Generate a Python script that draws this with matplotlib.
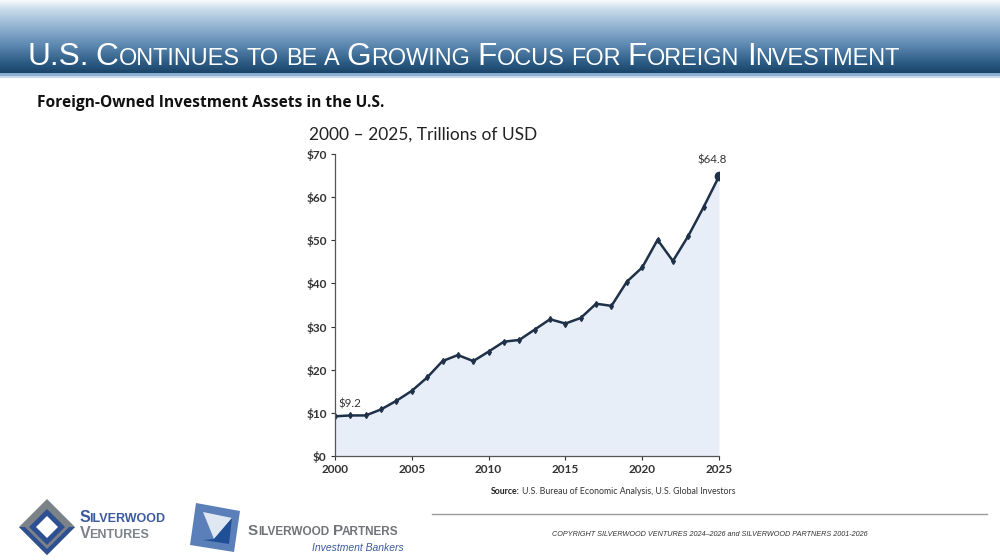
import numpy as np
import matplotlib
matplotlib.use("Agg")
import matplotlib.pyplot as plt
from matplotlib.patches import Polygon, Rectangle
from matplotlib.ticker import FuncFormatter

# data (trillions of USD)
years = list(range(2000, 2026))
assets = [9.2, 9.4, 9.4, 10.8, 12.8, 15.1, 18.2, 22.0, 23.4, 22.0,
          24.2, 26.5, 26.9, 29.3, 31.7, 30.7, 32.0, 35.3, 34.8, 40.4,
          43.7, 50.1, 45.2, 51.0, 57.7, 64.8]
y_ticks = [0, 10, 20, 30, 40, 50, 60, 70]
x_ticks = [2000, 2005, 2010, 2015, 2020, 2025]

# title in small caps: (text, capital?)
title_words = [[("U.S.", 1)], [("C", 1), ("ONTINUES", 0)], [("TO", 0)], [("BE", 0)], [("A", 0)],
               [("G", 1), ("ROWING", 0)], [("F", 1), ("OCUS", 0)], [("FOR", 0)],
               [("F", 1), ("OREIGN", 0)], [("I", 1), ("NVESTMENT", 0)]]

W, H = 1000, 560
fig = plt.figure(figsize=(10, 5.6), dpi=100)
fig.patch.set_facecolor("white")

# background layer in pixel coordinates
bg = fig.add_axes([0, 0, 1, 1])
bg.set_xlim(0, W)
bg.set_ylim(H, 0)
bg.axis("off")

# header gradient
stops_y = [0, 8, 22, 45, 62, 73]
stops_c = [(0.97, 0.98, 0.99), (0.80, 0.87, 0.93), (0.62, 0.74, 0.85),
           (0.36, 0.53, 0.69), (0.17, 0.36, 0.52), (0.10, 0.26, 0.40)]
rows = np.arange(0, 73)
grad = np.zeros((len(rows), 1, 3))
for k in range(3):
    grad[:, 0, k] = np.interp(rows, stops_y, [c[k] for c in stops_c])
bg.imshow(grad, extent=(0, W, 73, 0), aspect="auto", interpolation="bilinear")
bg.add_patch(Rectangle((0, 73), W, 3, color="#8aaed0", lw=0))
bg.add_patch(Rectangle((0, 76), W, 1.5, color="#c9d9e9", lw=0))
bg.set_xlim(0, W)
bg.set_ylim(H, 0)

# small caps title, placed piece by piece
fam = ["Liberation Sans Narrow", "Liberation Sans", "DejaVu Sans"]
fig.canvas.draw()
r = fig.canvas.get_renderer()
big_fs, small_fs = 22.8, 16.9
space_w = 7
x = 27
for word in title_words:
    for txt, big in word:
        t = bg.text(x, 65, txt, fontsize=big_fs if big else small_fs, color="white",
                    family=fam, va="baseline", ha="left")
        x += t.get_window_extent(renderer=r).width
    x += space_w

bg.text(37, 103, "Foreign-Owned Investment Assets in the U.S.", fontsize=11.2,
        fontweight="bold", family=["Open Sans", "DejaVu Sans"], va="center", color="#111111")

# footer
bg.plot([432, 987], [514, 514], color="#9a9a9a", lw=1)
bg.text(710, 535, "COPYRIGHT SILVERWOOD VENTURES 2024\u20132026 and SILVERWOOD PARTNERS 2001-2026",
        fontsize=5.2, style="italic", color="#333333", ha="center", va="center",
        family=["Liberation Sans Narrow", "Liberation Sans"])

# Silverwood Ventures logo
cx, cy = 47, 527
def diamond(cx, cy, s):
    return [(cx, cy - s), (cx + s, cy), (cx, cy + s), (cx - s, cy)]
bg.add_patch(Polygon(diamond(cx, cy, 28), closed=True, color="#7b8288", lw=0))
bg.add_patch(Polygon([(cx, cy + 28), (cx + 28, cy), (cx + 22, cy), (cx, cy + 22), (cx - 22, cy), (cx - 28, cy)],
                     closed=True, color="#2f4f93", lw=0))
bg.add_patch(Polygon(diamond(cx, cy, 18), closed=True, color="#2f4f93", lw=0))
bg.add_patch(Polygon(diamond(cx, cy, 11), closed=True, color="white", lw=0))
bg.text(80, 522, "S", fontsize=11.5, fontweight="bold", color="#3b5aa0", family="Liberation Sans", va="baseline")
bg.text(89, 522, "ILVERWOOD", fontsize=9, fontweight="bold", color="#3b5aa0", family="Liberation Sans", va="baseline")
bg.text(80, 538, "V", fontsize=11.5, fontweight="bold", color="#7b8288", family="Liberation Sans", va="baseline")
bg.text(89, 538, "ENTURES", fontsize=9, fontweight="bold", color="#7b8288", family="Liberation Sans", va="baseline")

# Silverwood Partners logo
bg.add_patch(Polygon([(196, 503), (240, 511), (234, 552), (190, 545)], closed=True, color="#5b7fb8", lw=0))
bg.add_patch(Polygon([(203, 512), (232, 518), (214, 539)], closed=True, color="#dfe7f2", lw=0))
bg.add_patch(Polygon([(214, 539), (232, 518), (229, 544), (203, 540)], closed=True, color="#1f4f96", lw=0))
bg.text(248, 535, "S", fontsize=11, fontweight="bold", color="#707377", family="Liberation Sans", va="baseline")
bg.text(258, 535, "ILVERWOOD", fontsize=8.5, fontweight="bold", color="#707377", family="Liberation Sans", va="baseline")
bg.text(333, 535, "P", fontsize=11, fontweight="bold", color="#707377", family="Liberation Sans", va="baseline")
bg.text(342, 535, "ARTNERS", fontsize=8.5, fontweight="bold", color="#707377", family="Liberation Sans", va="baseline")
bg.text(404, 551, "Investment Bankers", fontsize=7.5, style="italic", color="#3b5aa0",
        family="Liberation Sans", va="baseline", ha="right")

# chart
ax = fig.add_axes([335 / W, 1 - 456 / H, 384 / W, 302 / H])
line_c = "#1e3148"
ax.fill_between(years, assets, 0, color="#e8eef8", lw=0)
ax.plot(years, assets, color=line_c, lw=1.8, marker="d", ms=3)
ax.plot(years[-1], assets[-1], marker="o", ms=6, color=line_c)
ax.set_xlim(2000, 2025)
ax.set_ylim(0, 70)
ax.set_xticks(x_ticks)
ax.set_yticks(y_ticks)
ax.yaxis.set_major_formatter(FuncFormatter(lambda v, p: f"${v:.0f}"))
for s in ["top", "right"]:
    ax.spines[s].set_visible(False)
for s in ["left", "bottom"]:
    ax.spines[s].set_color("#555555")
    ax.spines[s].set_linewidth(0.9)
ax.tick_params(labelsize=8.5, colors="#333333", length=3, width=0.8, pad=3)
for lab in ax.get_xticklabels() + ax.get_yticklabels():
    lab.set_fontweight("bold")
    lab.set_family(["Lato", "DejaVu Sans"])
ax.annotate(f"${assets[0]:.1f}", (years[1], assets[1]), xytext=(0, 6), textcoords="offset points",
            ha="center", fontsize=8.3, color="#333333", family=["Lato", "DejaVu Sans"])
ax.annotate(f"${assets[-1]:.1f}", (years[-1], assets[-1]), xytext=(-5, 9), textcoords="offset points",
            ha="center", fontsize=8.3, color="#333333", family=["Lato", "DejaVu Sans"])
ax.set_facecolor("none")

bg.text(309, 135, "2000 \u2013 2025, Trillions of USD", fontsize=12.5, color="#222222",
        family=["Lato", "DejaVu Sans"], va="center")
src = bg.text(735, 491, "U.S. Bureau of Economic Analysis, U.S. Global Investors",
              fontsize=6.3, color="#333333", ha="right", va="center", family=["Lato", "DejaVu Sans"])
sw = src.get_window_extent(renderer=r).width
bg.text(735 - sw - 2, 491, "Source:", fontsize=6.3, fontweight="bold", color="#222222",
        ha="right", va="center", family=["Lato", "DejaVu Sans"])

fig.savefig("out.png", dpi=100)
